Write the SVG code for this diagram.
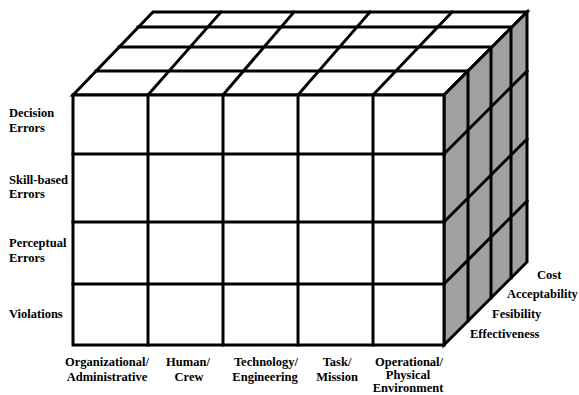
<svg xmlns="http://www.w3.org/2000/svg" width="579" height="395" viewBox="0 0 579 395">
  <style>
    .ln { stroke: #000; stroke-width: 3; fill: none; stroke-linecap: square; }
    .face { stroke: #000; stroke-width: 3; stroke-linejoin: miter; }
    .lbl { font-family: "Liberation Serif", "Times New Roman", serif; font-weight: bold; font-size: 12.5px; fill: #000; }
    .mid { text-anchor: middle; }
  </style>
  <rect width="579" height="395" fill="#fff"/>
  <g id="top-face">
    <polygon class="face" fill="#fff" points="73,95 153,12 527,12 444,95"/>
    <line class="ln" x1="96" y1="71" x2="468" y2="71"/>
    <line class="ln" x1="119" y1="47" x2="491" y2="47"/>
    <line class="ln" x1="138" y1="27" x2="511" y2="27"/>
    <line class="ln" x1="148" y1="95" x2="221" y2="12"/>
    <line class="ln" x1="223" y1="95" x2="294" y2="12"/>
    <line class="ln" x1="298" y1="95" x2="370" y2="12"/>
    <line class="ln" x1="373" y1="95" x2="452" y2="12"/>
  </g>
  <g id="right-face">
    <polygon class="face" fill="#a0a0a0" points="444,95 527,12 527,262 444,345"/>
    <line class="ln" x1="468" y1="71" x2="468" y2="321"/>
    <line class="ln" x1="491" y1="48" x2="491" y2="298"/>
    <line class="ln" x1="511" y1="28" x2="511" y2="278"/>
    <line class="ln" x1="444" y1="154" x2="527" y2="71"/>
    <line class="ln" x1="444" y1="222" x2="527" y2="139"/>
    <line class="ln" x1="444" y1="284" x2="527" y2="201"/>
  </g>
  <g id="front-face">
    <rect class="face" fill="#fff" x="73" y="95" width="371" height="250"/>
    <line class="ln" x1="148" y1="95" x2="148" y2="345"/>
    <line class="ln" x1="223" y1="95" x2="223" y2="345"/>
    <line class="ln" x1="298" y1="95" x2="298" y2="345"/>
    <line class="ln" x1="373" y1="95" x2="373" y2="345"/>
    <line class="ln" x1="73" y1="154" x2="444" y2="154"/>
    <line class="ln" x1="73" y1="222" x2="444" y2="222"/>
    <line class="ln" x1="73" y1="284" x2="444" y2="284"/>
  </g>
  <g id="row-labels">
    <text class="lbl" x="9" y="117">Decision</text>
    <text class="lbl" x="9" y="132">Errors</text>
    <text class="lbl" x="9" y="184">Skill-based</text>
    <text class="lbl" x="9" y="198">Errors</text>
    <text class="lbl" x="9" y="247">Perceptual</text>
    <text class="lbl" x="9" y="262">Errors</text>
    <text class="lbl" x="9" y="318">Violations</text>
  </g>
  <g id="column-labels">
    <text class="lbl mid" x="107" y="366">Organizational/</text>
    <text class="lbl mid" x="107" y="381">Administrative</text>
    <text class="lbl mid" x="188" y="366">Human/</text>
    <text class="lbl mid" x="189" y="381">Crew</text>
    <text class="lbl mid" x="266" y="366">Technology/</text>
    <text class="lbl mid" x="265" y="381">Engineering</text>
    <text class="lbl mid" x="337" y="366">Task/</text>
    <text class="lbl mid" x="337" y="381">Mission</text>
    <text class="lbl mid" x="409" y="366">Operational/</text>
    <text class="lbl mid" x="408" y="379">Physical</text>
    <text class="lbl mid" x="408" y="392">Environment</text>
  </g>
  <g id="depth-labels">
    <text class="lbl" x="537" y="279">Cost</text>
    <text class="lbl" x="507" y="298">Acceptability</text>
    <text class="lbl" x="492" y="318">Fesibility</text>
    <text class="lbl" x="470" y="338">Effectiveness</text>
  </g>
</svg>
